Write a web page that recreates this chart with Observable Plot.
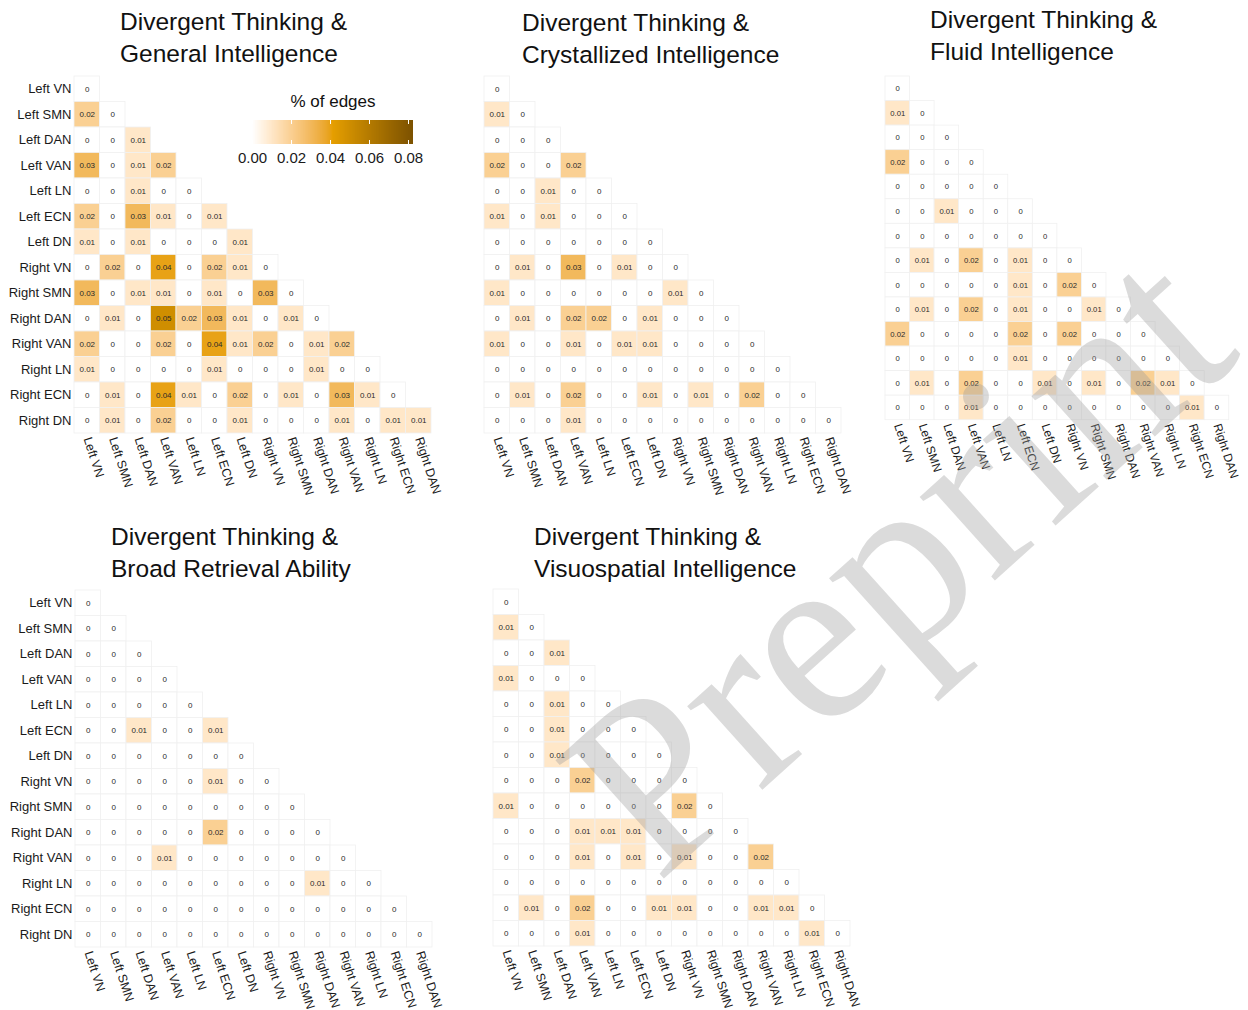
<!DOCTYPE html>
<html><head><meta charset="utf-8">
<script src="https://cdn.jsdelivr.net/npm/d3@7"></script>
<script src="https://cdn.jsdelivr.net/npm/@observablehq/plot@0.6"></script>
<style>
body{margin:0;background:#fff;font-family:"Liberation Sans",Arial,Helvetica,sans-serif;}
#root{position:relative;width:1248px;height:1010px;overflow:hidden;background:#fff;}
.panel{position:absolute;}
.panel svg{overflow:visible;}
.title{position:absolute;font-size:24.5px;line-height:32px;color:#111;white-space:nowrap;}
.legend-title{position:absolute;font-size:17px;color:#111;white-space:nowrap;transform:translateX(-50%);}
#legend{position:absolute;}
#legend svg{overflow:visible;}
#wm{position:absolute;left:0;top:0;pointer-events:none;}
</style></head><body><div id="root"></div>
<script>
// ---- data ----
const networks = ["Left VN","Left SMN","Left DAN","Left VAN","Left LN","Left ECN","Left DN",
  "Right VN","Right SMN","Right DAN","Right VAN","Right LN","Right ECN","Right DN"];
const xTickLabels = ["Left VN","Left SMN","Left DAN","Left VAN","Left LN","Left ECN","Left DN",
  "Right VN","Right SMN","Right DAN","Right VAN","Right LN","Right ECN","Right DAN"];
const panelTitles = [
  ["Divergent Thinking &","General Intelligence"],
  ["Divergent Thinking &","Crystallized Intelligence"],
  ["Divergent Thinking &","Fluid Intelligence"],
  ["Divergent Thinking &","Broad Retrieval Ability"],
  ["Divergent Thinking &","Visuospatial Intelligence"]
];
const legendTitle = "% of edges";
const legendTicks = [0, 0.02, 0.04, 0.06, 0.08];
const colorDomain = [0, 0.0413, 0.0826];
const watermarkText = "Preprint";

const generalRows = [
  [0],
  [0.02,0],
  [0,0,0.01],
  [0.03,0,0.01,0.02],
  [0,0,0.01,0,0],
  [0.02,0,0.03,0.01,0,0.01],
  [0.01,0,0.01,0,0,0,0.01],
  [0,0.02,0,0.04,0,0.02,0.01,0],
  [0.03,0,0.01,0.01,0,0.01,0,0.03,0],
  [0,0.01,0,0.05,0.02,0.03,0.01,0,0.01,0],
  [0.02,0,0,0.02,0,0.04,0.01,0.02,0,0.01,0.02],
  [0.01,0,0,0,0,0.01,0,0,0,0.01,0,0],
  [0,0.01,0,0.04,0.01,0,0.02,0,0.01,0,0.03,0.01,0],
  [0,0.01,0,0.02,0,0,0.01,0,0,0,0.01,0,0.01,0.01]
];
const crystallizedRows = [
  [0],
  [0.01,0],
  [0,0,0],
  [0.02,0,0,0.02],
  [0,0,0.01,0,0],
  [0.01,0,0.01,0,0,0],
  [0,0,0,0,0,0,0],
  [0,0.01,0,0.03,0,0.01,0,0],
  [0.01,0,0,0,0,0,0,0.01,0],
  [0,0.01,0,0.02,0.02,0,0.01,0,0,0],
  [0.01,0,0,0.01,0,0.01,0.01,0,0,0,0],
  [0,0,0,0,0,0,0,0,0,0,0,0],
  [0,0.01,0,0.02,0,0,0.01,0,0.01,0,0.02,0,0],
  [0,0,0,0.01,0,0,0,0,0,0,0,0,0,0]
];
const fluidRows = [
  [0],
  [0.01,0],
  [0,0,0],
  [0.02,0,0,0],
  [0,0,0,0,0],
  [0,0,0.01,0,0,0],
  [0,0,0,0,0,0,0],
  [0,0.01,0,0.02,0,0.01,0,0],
  [0,0,0,0,0,0.01,0,0.02,0],
  [0,0.01,0,0.02,0,0.01,0,0,0.01,0],
  [0.02,0,0,0,0,0.02,0,0.02,0,0,0],
  [0,0,0,0,0,0.01,0,0,0,0,0,0],
  [0,0.01,0,0.02,0,0,0.01,0,0.01,0,0.02,0.01,0],
  [0,0,0,0.01,0,0,0,0,0,0,0,0,0.01,0]
];
const retrievalRows = [
  [0],
  [0,0],
  [0,0,0],
  [0,0,0,0],
  [0,0,0,0,0],
  [0,0,0.01,0,0,0.01],
  [0,0,0,0,0,0,0],
  [0,0,0,0,0,0.01,0,0],
  [0,0,0,0,0,0,0,0,0],
  [0,0,0,0,0,0.02,0,0,0,0],
  [0,0,0,0.01,0,0,0,0,0,0,0],
  [0,0,0,0,0,0,0,0,0,0.01,0,0],
  [0,0,0,0,0,0,0,0,0,0,0,0,0],
  [0,0,0,0,0,0,0,0,0,0,0,0,0,0]
];
const visuospatialRows = [
  [0],
  [0.01,0],
  [0,0,0.01],
  [0.01,0,0,0],
  [0,0,0.01,0,0],
  [0,0,0.01,0,0,0],
  [0,0,0.01,0,0,0,0],
  [0,0,0,0.02,0,0,0,0],
  [0.01,0,0,0,0,0,0,0.02,0],
  [0,0,0,0.01,0.01,0.01,0,0,0,0],
  [0,0,0,0.01,0,0.01,0,0.01,0,0,0.02],
  [0,0,0,0,0,0,0,0,0,0,0,0],
  [0,0.01,0,0.02,0,0,0.01,0.01,0,0,0.01,0.01,0],
  [0,0,0,0.01,0,0,0,0,0,0,0,0,0.01,0]
];
const panelRows = [generalRows, crystallizedRows, fluidRows, retrievalRows, visuospatialRows];

// ---- layout ----
const layout = [
  {gx:74,  gy:75.5, tx:120, ty:6,   yAxis:true},
  {gx:484, gy:75.5, tx:522, ty:7,   yAxis:false},
  {gx:885, gy:75.5, tx:930, ty:4,   yAxis:false},
  {gx:75,  gy:589.5,tx:111, ty:521, yAxis:true},
  {gx:493, gy:589,  tx:534, ty:521, yAxis:false}
];
const cellSize = 25.5, gridSize = cellSize * networks.length;
const FONT = '"Liberation Sans", Arial, Helvetica, sans-serif';
const colorScale = {type:"linear", domain: colorDomain, range:["#ffffff","#E69F00","#7d5200"], interpolate:"lab"};
const xLabelOf = new Map(networks.map((n,i)=>[n, xTickLabels[i]]));

const root = document.getElementById("root");

function makePanel(rows, L){
  const data = rows.flatMap((r,i)=> r.map((v,j)=>({row: networks[i], col: networks[j], value: v})));
  const mL = L.yAxis ? 74 : 0, mR = 20, mB = 80;
  const marks = [
    Plot.cell(data, {x:"col", y:"row", fill:"value", stroke:"#f0f0f0", strokeWidth:0.8}),
    Plot.text(data, {x:"col", y:"row", text: d => String(d.value), fontSize:8, fill:"#2b2b2b"}),
    Plot.axisX({tickRotate:72, tickSize:0, tickPadding:4, fontSize:12.5, fill:"#1a1a1a", label:null,
                tickFormat: d => xLabelOf.get(d)})
  ];
  if (L.yAxis) marks.push(Plot.axisY({tickSize:0, tickPadding:3, fontSize:13, fill:"#1a1a1a", label:null}));
  const p = Plot.plot({
    width: mL + gridSize + mR, height: gridSize + mB,
    marginLeft: mL, marginRight: mR, marginTop: 0, marginBottom: mB,
    style: {fontFamily: FONT, fontSize: "13px", background: "transparent", overflow: "visible"},
    x: {domain: networks, padding: 0, round: false, label: null},
    y: {domain: networks, padding: 0, round: false, label: null, ...(L.yAxis ? {} : {axis: null})},
    color: colorScale,
    marks
  });
  const div = document.createElement("div");
  div.className = "panel";
  div.style.left = (L.gx - mL) + "px";
  div.style.top = L.gy + "px";
  div.appendChild(p);
  root.appendChild(div);
}

panelRows.forEach((rows, k) => {
  const L = layout[k];
  makePanel(rows, L);
  const t = document.createElement("div");
  t.className = "title";
  t.style.left = L.tx + "px";
  t.style.top = L.ty + "px";
  t.innerHTML = panelTitles[k].join("<br>");
  root.appendChild(t);
});

// legend
const lt = document.createElement("div");
lt.className = "legend-title";
lt.textContent = legendTitle;
lt.style.left = "333px";
lt.style.top = "92px";
root.appendChild(lt);

const barH = 24, tickSz = 5;
const leg = Plot.legend({
  color: colorScale,
  width: 161, height: barH + 25, marginTop: 0, marginBottom: 25, marginLeft: 0, marginRight: 0,
  ticks: legendTicks, tickFormat: ".2f", tickSize: tickSz, label: null,
  style: {fontFamily: FONT, fontSize: "15px", color: "#1a1a1a", background: "transparent", overflow: "visible"}
});
const legDiv = document.createElement("div");
legDiv.id = "legend";
legDiv.style.left = "252px";
legDiv.style.top = "120px";
legDiv.appendChild(leg);
root.appendChild(legDiv);
const legSvg = legDiv.querySelector("svg") || leg;
legSvg.querySelectorAll(".tick line").forEach(l => {
  l.setAttribute("stroke", "#ffffff");
  l.setAttribute("stroke-dasharray", `4,${barH-8},4,40`);
});
legSvg.querySelectorAll(".domain").forEach(d => d.remove());

// watermark
const ns = "http://www.w3.org/2000/svg";
const wm = document.createElementNS(ns, "svg");
wm.setAttribute("id", "wm");
wm.setAttribute("width", 1248); wm.setAttribute("height", 1010);
const wt = document.createElementNS(ns, "text");
wt.setAttribute("x", 1244); wt.setAttribute("y", 356);
wt.setAttribute("text-anchor", "end");
wt.setAttribute("transform", "rotate(-42 1244 356)");
wt.setAttribute("font-family", '"Liberation Serif", "DejaVu Serif", serif');
wt.setAttribute("font-size", 245);
wt.setAttribute("fill", "#9a9a9a");
wt.setAttribute("fill-opacity", 0.36);
wt.textContent = watermarkText;
wm.appendChild(wt);
root.appendChild(wm);
</script></body></html>
